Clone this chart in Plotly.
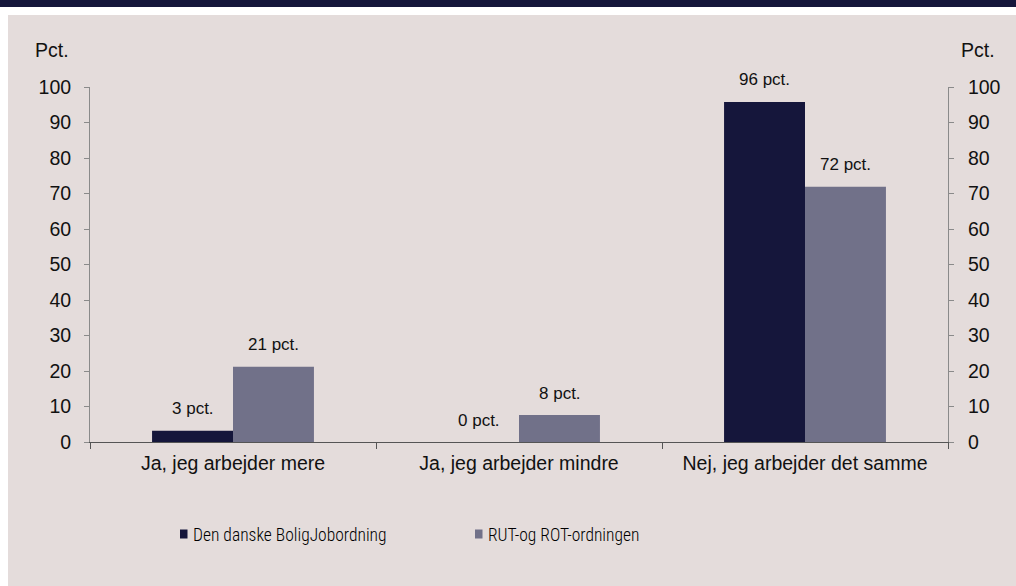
import plotly.graph_objects as go

categories = ["Ja, jeg arbejder mere", "Ja, jeg arbejder mindre", "Nej, jeg arbejder det samme"]
series_names = ["Den danske BoligJobordning", "RUT-og ROT-ordningen"]
bolig_values = [3.2, 0, 95.8]
rut_values = [21.2, 7.6, 71.9]
bolig_labels = ["3 pct.", "0 pct.", "96 pct."]
rut_labels = ["21 pct.", "8 pct.", "72 pct."]
y_ticks = list(range(0, 101, 10))

NAVY = "#15163b"
GREY = "#717189"
BG = "#e4dcdb"
TXT = "#111111"
FAM = "Liberation Sans, Arial"
NARROW = "Roboto Condensed, Liberation Sans"

W, H = 1016, 586
L, R, T, B = 90, 68, 87, 144
PW, PH = W - L - R, H - T - B

def px_x(p):
    return (p - L) / PW

def px_y(p):
    return (H - B - p) / PH

fig = go.Figure()
fig.add_trace(go.Bar(x=categories, y=bolig_values, name=series_names[0],
                     marker=dict(color=NAVY, line=dict(width=0))))
fig.add_trace(go.Bar(x=categories, y=rut_values, name=series_names[1],
                     marker=dict(color=GREY, line=dict(width=0))))
# invisible trace so that the right-hand axis is drawn
fig.add_trace(go.Scatter(x=categories, y=rut_values, yaxis="y2", mode="markers",
                         marker=dict(opacity=0), showlegend=False, hoverinfo="skip"))

annotations = []
for i, c in enumerate(categories):
    annotations.append(dict(x=c, y=bolig_values[i], xref="x", yref="y", text=bolig_labels[i],
                            showarrow=False, xshift=-40.5, yshift=22, yanchor="middle",
                            font=dict(size=17, color=TXT, family=FAM)))
    annotations.append(dict(x=c, y=rut_values[i], xref="x", yref="y", text=rut_labels[i],
                            showarrow=False, xshift=40.5, yshift=22, yanchor="middle",
                            font=dict(size=17, color=TXT, family=FAM)))
for xp in (52, 978):
    annotations.append(dict(x=px_x(xp), y=px_y(50), xref="paper", yref="paper", text="Pct.",
                            showarrow=False, xanchor="center", yanchor="middle",
                            font=dict(size=19.5, color=TXT, family=FAM)))

shapes = [
    dict(type="rect", xref="paper", yref="paper", x0=px_x(8), x1=px_x(W + 5),
         y0=px_y(H + 5), y1=px_y(15), fillcolor=BG, line=dict(width=0), layer="below"),
    dict(type="rect", xref="paper", yref="paper", x0=px_x(-5), x1=px_x(W + 5),
         y0=px_y(7), y1=px_y(-5), fillcolor=NAVY, line=dict(width=0), layer="below"),
]

# manual legend
legend_items = [(series_names[0], NAVY, 180), (series_names[1], GREY, 475)]
for name, col, xs in legend_items:
    shapes.append(dict(type="rect", xref="paper", yref="paper", x0=px_x(xs), x1=px_x(xs + 7.5),
                       y0=px_y(538.5), y1=px_y(529.5), fillcolor=col, line=dict(width=0)))
    annotations.append(dict(x=px_x(xs + 10.5), y=px_y(534.5), xref="paper", yref="paper", text=name,
                            showarrow=False, xanchor="left", yanchor="middle",
                            font=dict(size=17.5, color="#000000", family=NARROW, weight=300)))

axis_font = dict(size=19.5, color=TXT, family=FAM)

fig.update_layout(
    width=W, height=H,
    margin=dict(l=L, r=R, t=T, b=B),
    paper_bgcolor="white", plot_bgcolor=BG,
    barmode="group", bargap=0.434, bargroupgap=0,
    showlegend=False,
    xaxis=dict(type="category", showgrid=False, showline=True, linecolor="#555555", linewidth=1,
               ticks="outside", tickson="boundaries", ticklen=6, tickcolor="#555555",
               tickfont=axis_font, ticklabelstandoff=4),
    yaxis=dict(range=[0, 100], tickvals=y_ticks, showgrid=False, showline=True,
               linecolor="#8a8a8a", linewidth=1, ticks="outside", ticklen=5, tickcolor="#8a8a8a",
               tickfont=axis_font, ticklabelstandoff=9, zeroline=False),
    yaxis2=dict(range=[0, 100], tickvals=y_ticks, overlaying="y", side="right", showgrid=False,
                showline=True, linecolor="#8a8a8a", linewidth=1, ticks="outside", ticklen=5,
                tickcolor="#8a8a8a", tickfont=axis_font, ticklabelstandoff=10, zeroline=False),
    annotations=annotations,
    shapes=shapes,
)

fig.write_html("out.html", config={"displayModeBar": False},
               post_script="document.body.style.margin='0';document.body.style.overflow='hidden';")
